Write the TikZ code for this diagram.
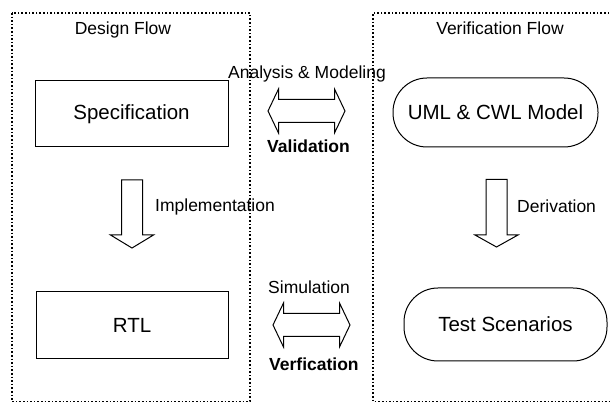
\documentclass[tikz,border=0pt]{standalone}
\usepackage{fontspec}
\setmainfont{Liberation Sans}
\tikzset{
  flowframe/.style={dotted, line width=1.6pt},
  flowtitle/.style={font=\fontsize{17.5}{21}\selectfont},
  steplabel/.style={font=\fontsize{17.5}{21}\selectfont, anchor=west, inner sep=0pt},
  boldlabel/.style={steplabel, font=\fontsize{17.5}{21}\selectfont\bfseries},
  designbox/.style={draw, line width=1pt, font=\fontsize{20.5}{24}\selectfont,
                    minimum width=193pt, minimum height=66pt},
  verifbox/.style={designbox, rounded corners=34pt},
  hollow/.style={draw, line width=1pt, fill=white, line join=miter}
}
\begin{document}
\begin{tikzpicture}[x=1pt,y=-1pt]
  \useasboundingbox (0,0) rectangle (611,403);
  % --- the two flows, dotted frames (the right one runs off the page)
  \draw[flowframe] (12,13) rectangle (250,401.5);
  \draw[flowframe] (620,13) -- (373,13) -- (373,401.5) -- (620,401.5);
  \node[flowtitle] (design) at (123,30) {Design Flow};
  \node[flowtitle] (verif) at (500,28.5) {Verification Flow};
  % --- boxes of each flow
  \node[designbox] (spec) at (131.5,114) {Specification};
  \node[designbox, minimum width=192pt, minimum height=67pt] (rtl) at (132,325.5) {RTL};
  \node[verifbox, minimum width=205pt, minimum height=69pt] (uml) at (495.5,112.5) {UML \& CWL Model};
  \node[verifbox, minimum width=203pt, minimum height=73pt] (test) at (505.5,324.5) {Test Scenarios};
  % --- hollow down arrows: centre x / top / neck / tip
  \foreach \cx/\top/\neck/\tip in {132/180/235/248, 496.5/179.5/235/247}{
    \draw[hollow] (\cx-10.5,\top) -- (\cx+10.5,\top) -- (\cx+10.5,\neck) -- (\cx+21.5,\neck)
      -- (\cx,\tip) -- (\cx-21.5,\neck) -- (\cx-10.5,\neck) -- cycle;}
  % --- hollow double arrows between the flows: left tip / right tip / centre y
  \foreach \xl/\xr/\cy in {268/345/111, 273/350/325}{
    \draw[hollow] (\xl,\cy) -- (\xl+10.5,\cy-22) -- (\xl+10.5,\cy-11.5) -- (\xr-10.5,\cy-11.5)
      -- (\xr-10.5,\cy-22) -- (\xr,\cy) -- (\xr-10.5,\cy+22) -- (\xr-10.5,\cy+11.5)
      -- (\xl+10.5,\cy+11.5) -- (\xl+10.5,\cy+22) -- cycle;}
  % --- labels of the arrows
  \node[steplabel] (impl) at (155,207) {Implementation};
  \node[steplabel] (deriv) at (517,206) {Derivation};
  \node[steplabel] (analysis) at (228,74) {Analysis \& Modeling};
  \node[boldlabel] (valid) at (267,146) {Validation};
  \node[steplabel] (simul) at (268,287.5) {Simulation};
  \node[boldlabel] (verfic) at (269,364) {Verfication};
\end{tikzpicture}
\end{document}
